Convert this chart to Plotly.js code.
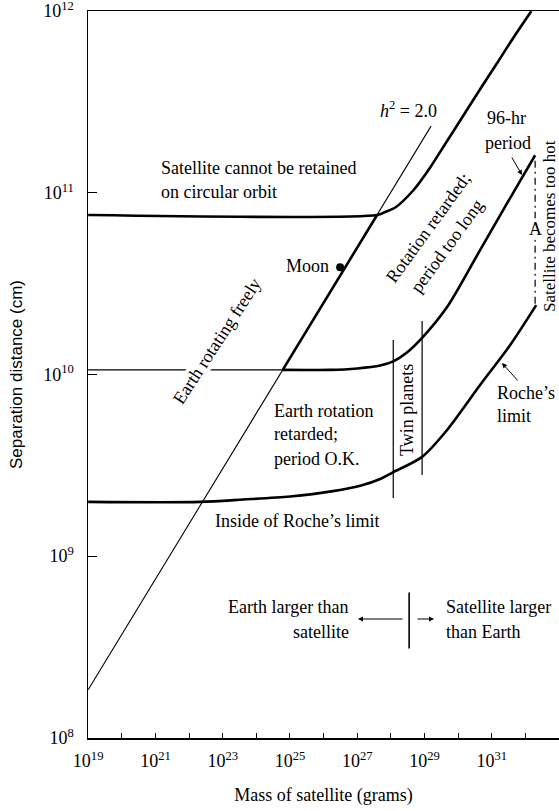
<!DOCTYPE html>
<html><head><meta charset="utf-8">
<script src="https://cdn.plot.ly/plotly-3.0.1.min.js"></script>
<style>html,body{margin:0;padding:0;background:#fff}#chart{width:559px;height:811px}</style>
</head><body><div id="chart"></div>
<script>
// ---- data ----
const upperX = [1e19, 3.9e27, 6.8e27, 1.35e28, 4.6e28, 1.48e29, 4.7e29, 1.6e30, 4.5e30, 1.45e31, 4.3e31, 1.5e32];
const upperY = [7.55e10, 7.55e10, 7.84e10, 8.3e10, 1.03e11, 1.38e11, 1.93e11, 2.75e11, 3.72e11, 5.18e11, 7.10e11, 1e12];

const midThinX = [1e19, 6.1e24];
const midThinY = [1.06e10, 1.06e10];
const midX = [6.1e24, 1.55e26, 1.0e27, 4.8e27, 1.18e28, 3.0e28, 8.5e28, 4.7e29, 4.5e30, 2.9e31, 1.95e32];
const midY = [1.06e10, 1.06e10, 1.08e10, 1.12e10, 1.18e10, 1.32e10, 1.59e10, 2.35e10, 4.84e10, 8.8e10, 1.61e11];

const rocheX = [1e19, 2.1e22, 4.1e23, 1e25, 1.9e26, 1.23e27, 4.8e27, 1.18e28, 8.5e28, 4.7e29, 4.5e30, 3.5e31, 2.1e32];
const rocheY = [1.99e9, 1.99e9, 2.05e9, 2.13e9, 2.28e9, 2.44e9, 2.66e9, 2.9e9, 3.52e9, 4.95e9, 8.75e9, 1.45e10, 2.41e10];

const h2X = [1e19, 1.57e29];
const h2Y = [1.84e8, 2.33e11];
const freeX = [6.1e24, 3.9e27];
const freeY = [1.06e10, 7.55e10];

const twinLeftX = [1.18e28, 1.18e28];
const twinLeftY = [2.09e9, 1.55e10];
const twinRightX = [8.5e28, 8.5e28];
const twinRightY = [2.8e9, 1.97e10];

const dividerX = [3.5e28, 3.5e28];
const dividerY = [3.1e8, 6.3e8];

const hotX = [1.95e32, 1.95e32];
const hotY = [2.45e10, 1.55e11];

const moonX = [3.1e26];
const moonY = [3.9e10];

const xTickVals = [1e19,1e20,1e21,1e22,1e23,1e24,1e25,1e26,1e27,1e28,1e29,1e30,1e31,1e32];
const xTickText = ['10<sup>19</sup>','','10<sup>21</sup>','','10<sup>23</sup>','','10<sup>25</sup>','','10<sup>27</sup>','','10<sup>29</sup>','','10<sup>31</sup>',''];
const yTickVals = [1e8,1e9,1e10,1e11,1e12];
const yTickText = ['10<sup>8</sup>','10<sup>9</sup>','10<sup>10</sup>','10<sup>11</sup>','10<sup>12</sup>'];

// ---- drawing ----
const SERIF = 'Liberation Serif, Times New Roman, serif';
const FS = 18;
const THICK = 2.6, THIN = 1.1;
function ln(x, y, w, dash, curved) {
  return {x: x, y: y, type: 'scatter', mode: 'lines', hoverinfo: 'skip',
          line: {color: '#000', width: w, dash: dash || 'solid',
                 shape: curved ? 'spline' : 'linear', smoothing: 0.8}};
}
const traces = [
  ln(h2X, h2Y, THIN),
  ln(freeX, freeY, THICK),
  ln(upperX, upperY, THICK, null, true),
  ln(midThinX, midThinY, THIN),
  ln(midX, midY, THICK, null, true),
  ln(rocheX, rocheY, THICK, null, true),
  ln(twinLeftX, twinLeftY, 1.2),
  ln(twinRightX, twinRightY, 1.2),
  ln(dividerX, dividerY, 1.6),
  ln(hotX, hotY, 1.2, '7px,4px,2px,4px'),
  {x: moonX, y: moonY, type: 'scatter', mode: 'markers', hoverinfo: 'skip',
   marker: {color: '#000', size: 8}}
];

const L = 88, T = 11, R = 559, B = 738;
function P(px, py) {
  return {x: (px - L) / (R - L), y: (B - py) / (B - T), xref: 'paper', yref: 'paper'};
}
function txt(px, py, text, opts) {
  return Object.assign(P(px, py), {text: text, showarrow: false,
    font: {family: SERIF, size: FS, color: '#000'},
    xanchor: 'center', yanchor: 'middle'}, opts || {});
}
function arrow(hx, hy, ax, ay) {
  return Object.assign(P(hx, hy), {text: '', showarrow: true, ax: ax, ay: ay,
    arrowhead: 2, arrowsize: 1, arrowwidth: 1, arrowcolor: '#000', standoff: 0, startstandoff: 0});
}
const annotations = [
  txt(159, 168, 'Satellite cannot be retained', {xanchor: 'left'}),
  txt(159, 192, 'on circular orbit', {xanchor: 'left'}),
  txt(408, 109, '<i>h</i><sup>2</sup> = 2.0'),
  txt(506, 118, '96-hr'),
  txt(508, 143, 'period'),
  txt(331, 266, 'Moon', {xanchor: 'right'}),
  txt(217, 341, 'Earth rotating freely', {textangle: -57, bgcolor: '#fff', borderpad: 0}),
  txt(428, 228, 'Rotation retarded;', {textangle: -54}),
  txt(447, 246, 'period too long', {textangle: -54}),
  txt(549, 226, 'Satellite becomes too hot', {textangle: -90, font: {family: SERIF, size: 17, color: '#000'}}),
  txt(535, 229, 'A', {bgcolor: '#fff', borderpad: 0}),
  txt(407, 410, 'Twin planets', {textangle: -90}),
  txt(272, 411, 'Earth rotation', {xanchor: 'left'}),
  txt(272, 434, 'retarded;', {xanchor: 'left'}),
  txt(272, 459, 'period O.K.', {xanchor: 'left'}),
  txt(495, 393, 'Roche\u2019s', {xanchor: 'left'}),
  txt(495, 416, 'limit', {xanchor: 'left'}),
  txt(213, 521, 'Inside of Roche\u2019s limit', {xanchor: 'left'}),
  txt(351, 607, 'Earth larger than', {xanchor: 'right'}),
  txt(351, 632, 'satellite', {xanchor: 'right'}),
  txt(444, 607, 'Satellite larger', {xanchor: 'left'}),
  txt(444, 632, 'than Earth', {xanchor: 'left'}),
  arrow(358, 619, 46, 0),
  arrow(434, 619, -18, 0),
  arrow(502, 363, 17, 19),
  arrow(522, 175, -11, -19)
];

const layout = {
  width: 559, height: 811,
  margin: {l: L, r: 559 - R, t: T, b: 811 - B, pad: 0},
  paper_bgcolor: '#fff', plot_bgcolor: '#fff',
  showlegend: false, hovermode: false,
  font: {family: SERIF, size: FS, color: '#000'},
  xaxis: {
    type: 'log', range: [18.995, 33.0], showgrid: false, zeroline: false,
    showline: true, linecolor: '#000', linewidth: 1.5, mirror: true,
    ticks: 'inside', ticklen: 5, tickwidth: 1, tickcolor: '#000',
    tickmode: 'array', tickvals: xTickVals, ticktext: xTickText,
    tickfont: {family: SERIF, size: FS}, ticklabelstandoff: 6, ticklabeloverflow: 'allow',
    title: {text: 'Mass of satellite (grams)', font: {family: SERIF, size: FS}, standoff: 18}
  },
  yaxis: {
    type: 'log', range: [7.999, 12.001], showgrid: false, zeroline: false,
    showline: true, linecolor: '#000', linewidth: 1.5,
    ticks: 'inside', ticklen: 9, tickwidth: 1, tickcolor: '#000',
    tickmode: 'array', tickvals: yTickVals, ticktext: yTickText,
    tickfont: {family: SERIF, size: FS}, ticklabelstandoff: 9, ticklabeloverflow: 'allow',
    title: {text: 'Separation distance (cm)', font: {family: 'Liberation Sans, Arial, sans-serif', size: 17}, standoff: 16}
  },
  annotations: annotations
};
Plotly.newPlot('chart', traces, layout, {staticPlot: true, displayModeBar: false});
</script>
</body></html>
